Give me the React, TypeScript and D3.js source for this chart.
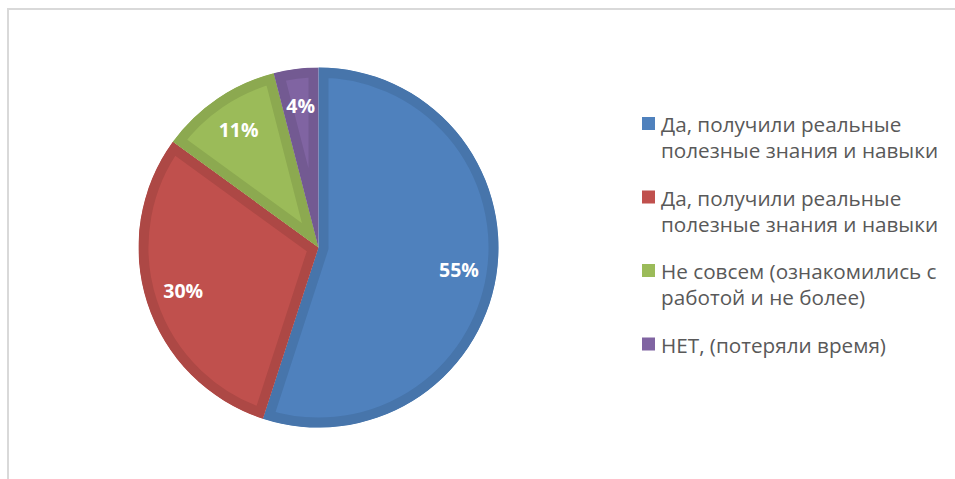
import React, { useEffect, useRef } from "react";
import * as d3 from "d3";

// answers (legend text, already wrapped the way the chart shows it)
const categories = [
  ["Да, получили реальные", "полезные знания и навыки"],
  ["Да, получили реальные", "полезные знания и навыки"],
  ["Не совсем (ознакомились с", "работой и не более)"],
  ["НЕТ, (потеряли время)"],
];
const values = [55, 30, 11, 4];
const fills = ["#4f81bd", "#c0504d", "#9bbb59", "#8064a2"];
const borders = ["#4775ab", "#ad4845", "#8ca950", "#735a92"];

const W = 955;
const H = 479;

export default function App() {
  const ref = useRef<SVGSVGElement>(null);

  useEffect(() => {
    const svg = d3.select(ref.current);
    svg.selectAll("*").remove();

    // chart frame (only top / left edges fall inside the picture)
    svg
      .append("rect")
      .attr("x", 8)
      .attr("y", 9)
      .attr("width", 1000)
      .attr("height", 600)
      .attr("fill", "white")
      .attr("stroke", "#d9d9d9")
      .attr("stroke-width", 2);

    var cx = 318.5,
      cy = 247.5,
      r = 180,
      inset = 10;

    var pie = d3
      .pie<number>()
      .sort(null)
      .value(d => d);
    var arcs = pie(values);
    var arc = d3
      .arc<d3.PieArcDatum<number>>()
      .innerRadius(0)
      .outerRadius(r);

    var g = svg.append("g").attr("transform", "translate(" + cx + "," + cy + ")");
    var defs = svg.append("defs");

    arcs.forEach((a, i) => {
      defs
        .append("clipPath")
        .attr("id", "slice-clip-" + i)
        .append("path")
        .attr("d", arc(a) as string);
    });

    // each slice: light fill with a darker band drawn inside its edge
    g.selectAll("path.slice")
      .data(arcs)
      .enter()
      .append("path")
      .attr("class", "slice")
      .attr("d", d => arc(d) as string)
      .attr("fill", (d, i) => fills[i])
      .attr("stroke", (d, i) => borders[i])
      .attr("stroke-width", inset * 2)
      .attr("stroke-linejoin", "miter")
      .attr("clip-path", (d, i) => "url(#slice-clip-" + i + ")");

    // percent labels
    var labelArc = d3
      .arc<d3.PieArcDatum<number>>()
      .innerRadius(r * 0.79)
      .outerRadius(r * 0.79);
    var total = d3.sum(values);
    g.selectAll("text.pct")
      .data(arcs)
      .enter()
      .append("text")
      .attr("class", "pct")
      .attr("transform", d => {
        var c = labelArc.centroid(d);
        return "translate(" + c[0] + "," + c[1] + ")";
      })
      .attr("text-anchor", "middle")
      .attr("dy", "0.36em")
      .attr("fill", "white")
      .style("font-family", "'Open Sans', sans-serif")
      .style("font-weight", "bold")
      .style("font-size", "19.5px")
      .text(d => Math.round((d.value / total) * 100) + "%");

    // legend
    var legendX = 642,
      firstY = 132,
      itemGap = 73.5,
      lineGap = 26;
    var legend = svg.append("g");
    categories.forEach((lines, i) => {
      var y = firstY + i * itemGap;
      legend
        .append("rect")
        .attr("x", legendX)
        .attr("y", y - 15)
        .attr("width", 13)
        .attr("height", 13)
        .attr("fill", fills[i]);
      var t = legend
        .append("text")
        .attr("x", legendX + 19)
        .attr("y", y)
        .attr("fill", "#595959")
        .style("font-family", "'Open Sans', sans-serif")
        .style("font-size", "20.7px");
      lines.forEach((line, k) => {
        t.append("tspan")
          .attr("x", legendX + 19)
          .attr("y", y + k * lineGap)
          .text(line);
      });
    });
  }, []);

  return (
    <svg
      ref={ref}
      width={W}
      height={H}
      style={{ position: "absolute", left: 0, top: 0, display: "block" }}
    />
  );
}
